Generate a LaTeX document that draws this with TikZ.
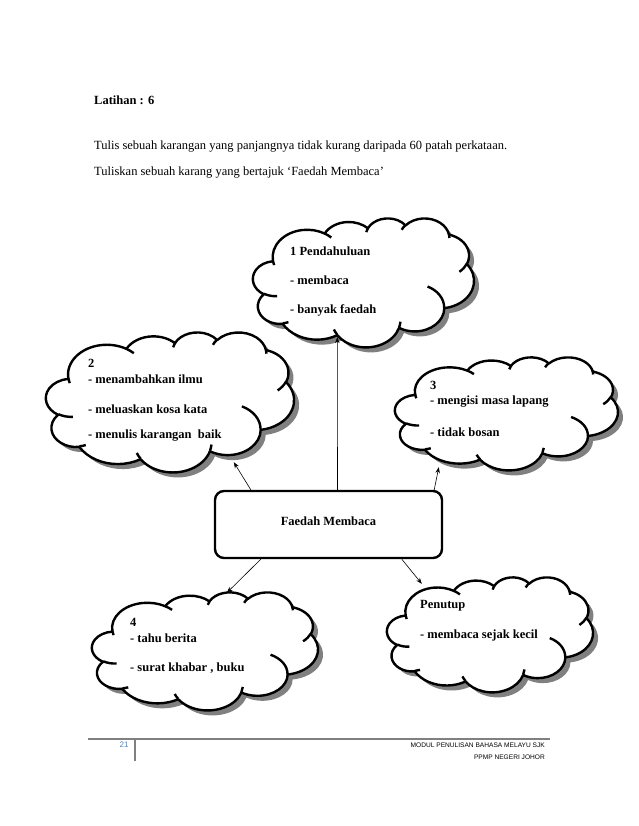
\documentclass[tikz,border=0pt]{standalone}
\usepackage{fontspec}
\setmainfont{Liberation Serif}
\newfontfamily\footfont{Liberation Sans}
\usetikzlibrary{arrows.meta,calc}
\definecolor{shadowgray}{RGB}{128,128,128}
\definecolor{pagenum}{RGB}{79,129,189}
\definecolor{footline}{RGB}{128,128,128}
% arc parameters of the Word "cloud" shape (path units 4320 x 4320, y down)
\newcommand\wcprep[5]{%
  \pgfmathsetmacro\wcts{atan2(#2*sin(#4),#3*cos(#4))}%
  \pgfmathsetmacro\wcte{atan2(#2*sin(#4+#5),#3*cos(#4+#5))}%
  \pgfmathsetmacro\wcdt{mod(\wcte-\wcts+720,360)}%
  \expandafter\xdef\csname wcS#1\endcsname{\wcts}%
  \expandafter\xdef\csname wcD#1\endcsname{\wcdt}%
  \expandafter\xdef\csname wcX#1\endcsname{#2}%
  \expandafter\xdef\csname wcY#1\endcsname{#3}%
}
\newcommand\wcarc[1]{arc[start angle=\csname wcS#1\endcsname, delta angle=\csname wcD#1\endcsname, x radius=\csname wcX#1\endcsname, y radius=\csname wcY#1\endcsname]}
\begin{document}
\begin{tikzpicture}[x=1pt,y=-1pt,
  cloudtext/.style={anchor=west, font=\fontsize{12.5}{14}\selectfont\bfseries, inner sep=0pt},
  plaintext/.style={anchor=west, font=\fontsize{12.5}{14}\selectfont, inner sep=0pt},
  centerbox/.style={draw, line width=2.4pt, rounded corners=9pt, fill=white,
    minimum width=227pt, minimum height=67pt},
  cloudline/.style={line width=2.4pt, line join=round},
  link/.style={line width=0.6pt, -{Stealth[length=6pt,width=4.5pt]}},
  foottext/.style={font=\footfont\fontsize{6.6}{8}\selectfont, inner sep=0pt}
]
\wcprep{a}{675.3}{919.0}{-190.48748}{123.78053}
\wcprep{b}{533.3}{726.7}{-144.10238}{89.94523}
\wcprep{c}{436.5}{594.5}{-145.80792}{99.72302}
\wcprep{d}{485.7}{659.5}{-130.98607}{117.24173}
\wcprep{e}{533.3}{727.3}{-78.70888}{109.02692}
\wcprep{f}{677.5}{922.0}{-46.26725}{130.26900}
\wcprep{g}{578.5}{786.7}{0.62502}{114.03333}
\wcprep{h}{675.2}{921.5}{22.45160}{115.17255}
\wcprep{i}{772.0}{1054.3}{66.24263}{75.71102}
\wcprep{j}{436.0}{591.8}{-274.94208}{146.73557}
\wcprep{k}{434.5}{594.5}{-246.82850}{152.51885}
\wcprep{ia}{434.5}{594.5}{86.74200}{26.42950}
\wcprep{ib}{436.0}{591.8}{73.61047}{11.44747}
\wcprep{ic}{675.2}{921.5}{137.62415}{14.08110}
\wcprep{id}{675.2}{921.5}{6.45327}{15.99835}
\wcprep{ie}{578.5}{786.7}{-70.29235}{70.91737}
\wcprep{if}{533.3}{727.3}{30.31803}{27.75150}
\wcprep{ig}{485.7}{659.5}{-13.74433}{14.85890}
\wcprep{ih}{485.7}{659.5}{-149.18145}{18.19537}
\wcprep{ii}{436.5}{594.5}{-163.49427}{17.68635}
\wcprep{ij}{675.3}{919.0}{-66.70695}{12.31935}
\wcprep{ik}{675.3}{919.0}{157.65435}{11.85817}
\def\wcoutline{(390,1437) \wcarc{a} \wcarc{b} \wcarc{c} \wcarc{d} \wcarc{e} \wcarc{f} \wcarc{g} \wcarc{h} \wcarc{i} \wcarc{j} \wcarc{k} -- cycle}
\def\wcinner{(469.3,2617.7) \wcarc{ia} (692.8,3489.9) \wcarc{ib} (1647.8,3909.0) \wcarc{ic} (2882.7,3475.1) \wcarc{id} (3412.9,2295.4) \wcarc{ie} (4179.8,1535.4) \wcarc{if} (3832.4,542.6) \wcarc{ig} (2907.8,395.2) \wcarc{ih} (2214.1,472.0) \wcarc{ii} (1400.0,519.2) \wcarc{ij} (412.7,1578.9) \wcarc{ik}}
\newcommand\wordcloud[5]{%
  \begin{scope}[shift={(#2+5,#3+5)}, x={#4pt/4320}, y={-#5pt/4320}]
    \fill[shadowgray] \wcoutline;
  \end{scope}
  \begin{scope}[shift={(#2,#3)}, x={#4pt/4320}, y={-#5pt/4320}]
    \filldraw[cloudline, fill=white] \wcoutline;
    \draw[cloudline] \wcinner;
  \end{scope}
  \node[inner sep=0pt, minimum width=#4pt, minimum height=#5pt] (#1) at (#2+#4/2,#3+#5/2) {};
}
\useasboundingbox (0,0) rectangle (638,826);

% header texts
\node[cloudtext] (title) at (94,100) {Latihan : 6};
\node[plaintext] (line1) at (94,147) {Tulis sebuah karangan yang panjangnya tidak kurang daripada 60 patah perkataan.};
\node[plaintext] (line2) at (94,173) {Tuliskan sebuah karang yang bertajuk ‘Faedah Membaca’};

% clouds
\wordcloud{c1}{253}{218}{221}{129}
\wordcloud{c2}{46}{332}{248}{140}
\wordcloud{c3}{395}{357}{223}{113}
\wordcloud{c4}{92}{592}{226}{118}
\wordcloud{c5}{387}{577}{206}{115}

% cloud texts
\node[cloudtext] (t1a) at (290,251) {1 Pendahuluan};
\node[cloudtext] (t1b) at (290,280) {- membaca};
\node[cloudtext] (t1c) at (290,310) {- banyak faedah};

\node[cloudtext] (t2a) at (88,363) {2};
\node[cloudtext] (t2b) at (88,379) {- menambahkan ilmu};
\node[cloudtext] (t2c) at (88,409) {- meluaskan kosa kata};
\node[cloudtext] (t2d) at (88,436) {- menulis karangan\ \ baik};

\node[cloudtext] (t3a) at (430,385) {3};
\node[cloudtext] (t3b) at (430,402) {- mengisi masa lapang};
\node[cloudtext] (t3c) at (430,432) {- tidak bosan};

\node[cloudtext] (t4a) at (130,622) {4};
\node[cloudtext] (t4b) at (130,638) {- tahu berita};
\node[cloudtext] (t4c) at (130,668) {- surat khabar , buku};

\node[cloudtext] (t5a) at (420,606) {Penutup};
\node[cloudtext] (t5b) at (420,635) {- membaca sejak kecil};

% central box
\node[centerbox] (box) at (328.5,524.5) {};
\node[cloudtext, anchor=center] (boxtext) at (328.5,521) {Faedah Membaca};

% connectors
\draw[link] ($(box.north)+(9,0)$) -- ($(c1.south west)+(84.5,-10)$);
\draw[link] ($(box.north west)+(37,0)$) -- ($(c2.south west)+(188,-10)$);
\draw[link] ($(box.north east)+(-9,0)$) -- ($(c3.south west)+(44,-3)$);
\draw[link] ($(box.south west)+(47,0)$) -- ($(c4.north west)+(135,1)$);
\draw[link] ($(box.south west)+(188,0)$) -- ($(c5.north west)+(35,7)$);

% footer
\coordinate (fl) at (88,739);
\coordinate (fr) at (550,739);
\draw[footline, line width=1.6pt] (fl) -- (fr);
\coordinate (vt) at (135,739);
\coordinate (vb) at (135,761);
\draw[footline, line width=2pt] (vt) -- (vb);
\node[foottext, text=pagenum, font=\footfont\fontsize{8}{9}\selectfont] (pnum) at (124,745) {21};
\node[foottext, anchor=east] (f1) at (545,745) {MODUL PENULISAN BAHASA MELAYU SJK};
\node[foottext, anchor=east] (f2) at (545,757) {PPMP NEGERI JOHOR};
\end{tikzpicture}
\end{document}
